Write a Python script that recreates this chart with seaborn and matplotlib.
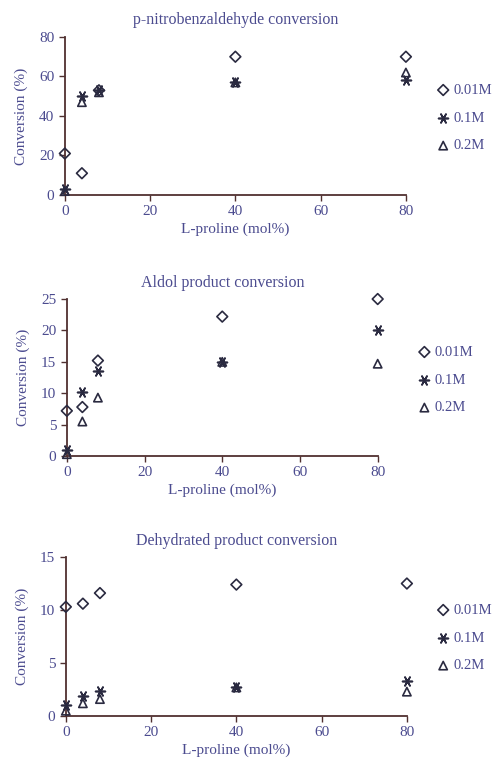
import pandas as pd
import seaborn as sns
import matplotlib.pyplot as plt

# L-proline loading (mol%)
proline = [0, 4, 8, 40, 80]
concs = ['0.01M', '0.1M', '0.2M']

# p-nitrobenzaldehyde conversion (%)
nitro_001 = [21, 11, 53, 70, 70]
nitro_01 = [3, 50, 53, 57, 58]
nitro_02 = [2, 47, 52, 57, 62]

# Aldol product conversion (%)
aldol_001 = [7.2, 7.8, 15.2, 22.2, 25.0]
aldol_01 = [1.0, 10.2, 13.5, 15.0, 20.0]
aldol_02 = [0.3, 5.5, 9.3, 15.0, 14.7]

# Dehydrated product conversion (%)
dehyd_001 = [10.3, 10.6, 11.6, 12.4, 12.5]
dehyd_01 = [1.0, 1.9, 2.4, 2.7, 3.3]
dehyd_02 = [0.5, 1.2, 1.6, 2.7, 2.3]

titles = ['p-nitrobenzaldehyde conversion', 'Aldol product conversion',
          'Dehydrated product conversion']
ylims = [80, 25, 15]
yticks = [[0, 20, 40, 60, 80], [0, 5, 10, 15, 20, 25], [0, 5, 10, 15]]
panels = [[nitro_001, nitro_01, nitro_02],
          [aldol_001, aldol_01, aldol_02],
          [dehyd_001, dehyd_01, dehyd_02]]

sns.set_style('ticks')
plt.rcParams['font.family'] = ['Liberation Serif', 'DejaVu Serif']
txt = '#4b4b8f'
mk = '#2a2a40'
plt.rcParams['text.color'] = txt
plt.rcParams['xtick.color'] = '#503030'
plt.rcParams['ytick.color'] = '#503030'
plt.rcParams['xtick.labelcolor'] = txt
plt.rcParams['ytick.labelcolor'] = txt

fig = plt.figure(figsize=(4.95, 7.64), dpi=100)
boxes = [[0.131, 0.7448, 0.689, 0.2068],
         [0.135, 0.4031, 0.628, 0.2055],
         [0.133, 0.0628, 0.689, 0.2081]]
leg_pos = [(0.86, 0.8455), (0.822, 0.5026), (0.86, 0.1649)]
markers = ['D', (6, 2, 90), '^']
sizes = [30, 50, 36]

for i in range(3):
    ax = fig.add_axes(boxes[i])
    for j, c in enumerate(concs):
        df = pd.DataFrame({'x': proline, 'y': panels[i][j]})
        if j == 1:
            sns.scatterplot(data=df, x='x', y='y', ax=ax, marker=markers[j],
                            s=sizes[j], color=mk, linewidth=1.2, label=c,
                            clip_on=False, zorder=3)
        else:
            sns.scatterplot(data=df, x='x', y='y', ax=ax, marker=markers[j],
                            s=sizes[j], facecolor='none', edgecolor=mk,
                            linewidth=1.2, label=c, clip_on=False, zorder=3)
    ax.set_xlim(0, 80)
    ax.set_ylim(0, ylims[i])
    ax.set_xticks([0, 20, 40, 60, 80])
    ax.set_yticks(yticks[i])
    ax.tick_params(labelsize=11, length=4, width=1)
    for s in ['left', 'bottom']:
        ax.spines[s].set_color('#503030')
        ax.spines[s].set_linewidth(1.3)
    sns.despine(ax=ax)
    ax.set_title(titles[i], fontsize=11.5, color=txt, pad=9)
    ax.set_ylabel('Conversion (%)', fontsize=11, color=txt, labelpad=8)
    ax.set_xlabel('L-proline (mol%)', fontsize=11, color=txt, labelpad=3)
    ax.legend(loc='center left', bbox_to_anchor=leg_pos[i],
              bbox_transform=fig.transFigure, frameon=False, fontsize=10.5,
              labelspacing=1.0, handletextpad=0.2, handlelength=1.0,
              borderpad=0.2)

fig.savefig('out.png', dpi=100)
